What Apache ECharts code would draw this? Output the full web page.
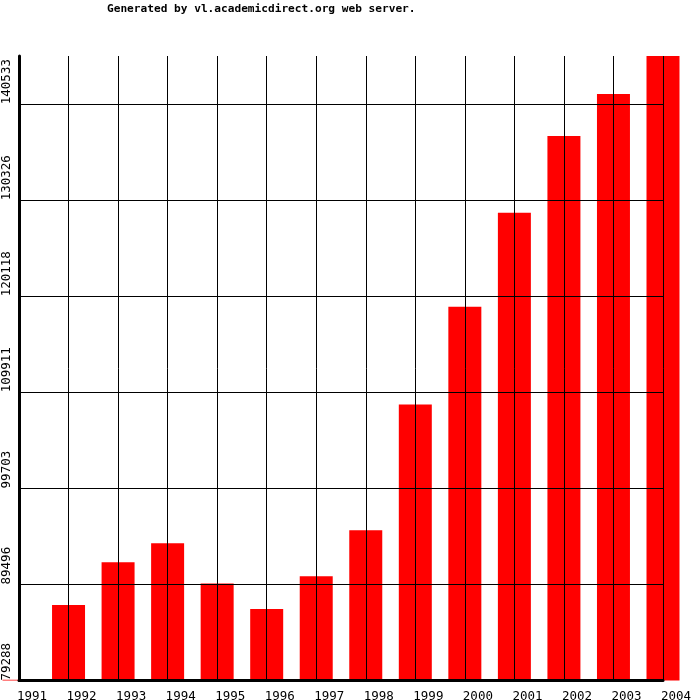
<!DOCTYPE html>
<html>
<head>
<meta charset="utf-8">
<script src="https://cdn.jsdelivr.net/npm/echarts@6/dist/echarts.min.js"></script>
<style>html,body{margin:0;padding:0;background:#fff}#c{width:700px;height:700px}</style>
</head>
<body>
<div id="c"></div>
<script>
const titleText = 'Generated by vl.academicdirect.org web server.';
const years = ['1991','1992','1993','1994','1995','1996','1997','1998','1999','2000','2001','2002','2003','2004'];
const values = [79380, 87299, 91861, 93877, 89600, 86874, 90375, 95256, 108625, 119022, 128996, 137166, 141622, 145658];
const yTicks = [79288, 89496, 99703, 109911, 120118, 130326, 140533];

const yMin = yTicks[0];
const yInterval = (yTicks[yTicks.length - 1] - yTicks[0]) / (yTicks.length - 1);
const yMax = Math.max.apply(null, values);
const font = 'DejaVu Sans Mono';

const chart = echarts.init(document.getElementById('c'), null, {renderer: 'canvas'});
chart.setOption({
  animation: false,
  backgroundColor: '#ffffff',
  title: {
    text: titleText,
    left: 107, top: 4, padding: 0,
    textStyle: {fontFamily: font, fontSize: 11.15, fontWeight: 'bold', color: '#000'}
  },
  grid: {left: 19, right: 37, top: 56, bottom: 19.5, containLabel: false, outerBoundsMode: 'none'},
  xAxis: {
    type: 'category',
    data: years,
    boundaryGap: false,
    z: 5,
    axisLine: {show: true, lineStyle: {color: '#000', width: 3}},
    axisTick: {show: false},
    splitLine: {show: true, lineStyle: {color: '#000', width: 1}},
    axisLabel: {
      interval: 0, align: 'left', margin: 10,
      fontFamily: font, fontSize: 12.5, color: '#000',
      padding: [0, 0, 0, -2]
    }
  },
  yAxis: {
    type: 'value',
    min: yMin, max: yMax, interval: yInterval,
    z: 5,
    axisLine: {show: true, lineStyle: {color: '#000', width: 3}},
    axisTick: {show: false},
    splitLine: {show: true, showMinLine: false, showMaxLine: false, lineStyle: {color: '#000', width: 1}},
    axisLabel: {
      rotate: 90, align: 'left', verticalAlign: 'middle', margin: 12,
      showMaxLabel: false,
      fontFamily: font, fontSize: 12.5, color: '#000',
      formatter: function (v) {
        let best = yTicks[0];
        yTicks.forEach(function (t) { if (Math.abs(t - v) < Math.abs(best - v)) best = t; });
        return Math.abs(best - v) < 2 ? String(best) : '';
      }
    }
  },
  series: [{
    type: 'custom',
    clip: false,
    z: 2,
    encode: {x: 0, y: 1},
    data: values.map(function (v, i) { return [i, v]; }),
    renderItem: function (params, api) {
      const top = api.coord([api.value(0), api.value(1)]);
      const base = api.coord([api.value(0), yMin]);
      const w = api.size([1, 0])[0] * 0.666;
      return {
        type: 'rect',
        shape: {x: top[0] - w / 2, y: top[1], width: w, height: base[1] - top[1]},
        style: {fill: '#ff0000'}
      };
    }
  }]
});
</script>
</body>
</html>
